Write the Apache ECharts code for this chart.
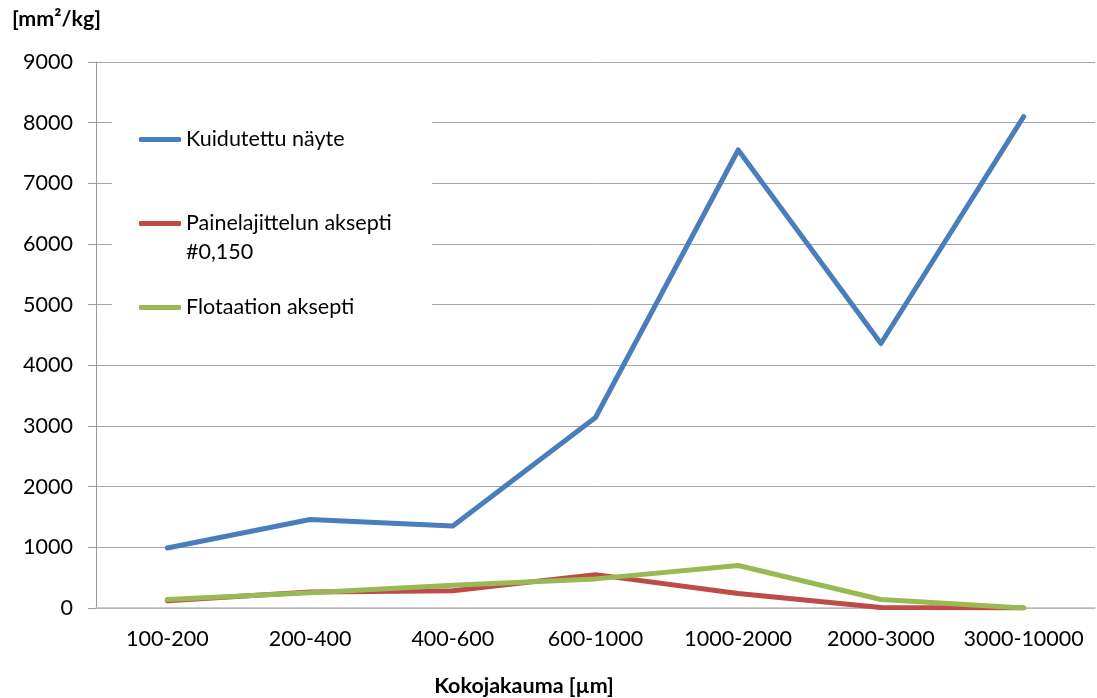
<!DOCTYPE html>
<html><head><meta charset="utf-8">
<script src="https://cdn.jsdelivr.net/npm/echarts@6/dist/echarts.min.js"></script>
<style>html,body{margin:0;padding:0;background:#fff}#c{width:1097px;height:698px}</style>
</head><body><div id="c"></div>
<script>
const categories = ['100-200','200-400','400-600','600-1000','1000-2000','2000-3000','3000-10000'];
const kuidutettu = [990, 1460, 1350, 3140, 7550, 4360, 8100];
const painelajittelu = [120, 265, 285, 550, 240, 10, 0];
const flotaatio = [140, 250, 375, 480, 700, 140, 0];
const seriesNames = ['Kuidutettu näyte', 'Painelajittelun aksepti\n#0,150', 'Flotaation aksepti'];
const colors = ['#4a7ebb', '#be4b48', '#98b954'];
const yUnit = '[mm²/kg]';
const xTitle = 'Kokojakauma [µm]';

const FONT = 'Lato';
const FS = 21.5;
const chart = echarts.init(document.getElementById('c'));
function line(name, data, color) {
  return {
    name, type: 'line', data, color,
    symbol: 'none', smooth: false,
    lineStyle: { width: 5, color, cap: 'round', join: 'round' },
    emphasis: { disabled: true }
  };
}
chart.setOption({
  animation: false,
  backgroundColor: '#fff',
  grid: { left: 96, right: 2, top: 62, bottom: 90, containLabel: false },
  xAxis: {
    type: 'category', data: categories, boundaryGap: true,
    axisLine: { show: true, lineStyle: { color: '#bdbdbd', width: 1.5 } },
    axisTick: { show: false },
    axisLabel: { fontFamily: FONT, fontSize: FS, color: '#000', margin: 20, interval: 0 },
    splitLine: { show: false }
  },
  yAxis: {
    type: 'value', min: 0, max: 9000, interval: 1000,
    axisLine: { show: true, lineStyle: { color: '#9a9a9a', width: 1 } },
    axisTick: { show: true, inside: false, length: 8, lineStyle: { color: '#9a9a9a' } },
    axisLabel: { fontFamily: FONT, fontSize: FS, color: '#000', margin: 23, formatter: v => String(v) },
    splitLine: { show: true, lineStyle: { color: '#a6a6a6', width: 1 } }
  },
  legend: {
    orient: 'vertical', left: 112, top: 100,
    padding: [25, 40, 18, 27],
    backgroundColor: '#fff',
    itemWidth: 42, itemHeight: 5, itemGap: 26,
    icon: 'roundRect',
    selectedMode: false,
    formatter: name => name.split('\n').map(s => '{t|' + s + '}').join('\n'),
    textStyle: {
      fontFamily: FONT, fontSize: FS, color: '#000', lineHeight: 29,
      rich: { t: { fontFamily: FONT, fontSize: FS, color: '#000', lineHeight: 29 } }
    },
    data: [
      { name: seriesNames[0] },
      { name: seriesNames[1], textStyle: { padding: [29, 0, 0, 0] } },
      { name: seriesNames[2] }
    ]
  },
  graphic: [
    { type: 'text', left: 12, top: 8, style: { text: yUnit, font: 'bold ' + FS + 'px ' + FONT, fill: '#000' } },
    { type: 'text', x: 524, y: 686, style: { text: xTitle, font: 'bold ' + FS + 'px ' + FONT, fill: '#000', align: 'center', verticalAlign: 'middle' } }
  ],
  series: [
    line(seriesNames[0], kuidutettu, colors[0]),
    line(seriesNames[1], painelajittelu, colors[1]),
    line(seriesNames[2], flotaatio, colors[2])
  ]
});
</script></body></html>
